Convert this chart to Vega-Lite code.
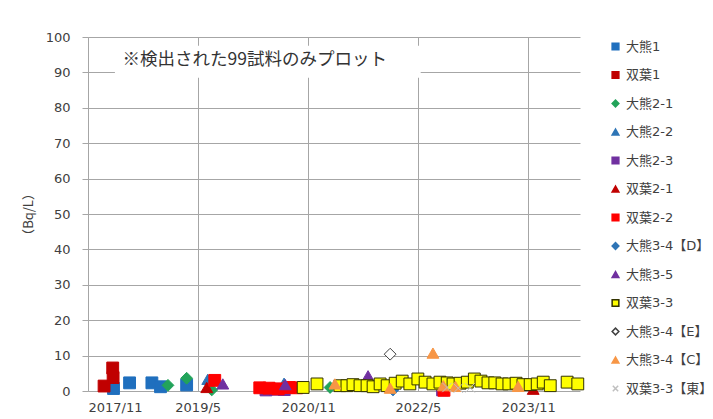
{
  "$schema": "https://vega.github.io/schema/vega-lite/v6.json",
  "width": 492,
  "height": 354,
  "autosize": {"type": "none"},
  "padding": {"left": 88, "top": 37, "right": 133, "bottom": 28},
  "background": "white",
  "config": {
    "view": {"stroke": null},
    "font": "DejaVu Sans",
    "axis": {"grid": true, "gridColor": "#A6A6A6", "domainColor": "#A6A6A6", "tickColor": "#A6A6A6", "labelColor": "#404040", "labelFont": "DejaVu Sans", "labelFontSize": 13, "titleColor": "#404040"},
    "axisY": {"titleFont": "Noto Sans CJK JP", "titleFontSize": 13, "titleFontWeight": "normal", "titlePadding": 10, "titleColor": "#404040"},
    "legend": {"labelFont": "DejaVu Sans, Noto Sans CJK JP", "labelFontSize": 13, "labelColor": "#404040", "symbolSize": 45, "rowPadding": 14.5, "padding": 3, "offset": 26}
  },
  "layer": [
    {
      "data": {"values": [
        {"series": "大熊1", "date": "2018-03-08", "value": 0.7},
        {"series": "大熊1", "date": "2018-05-27", "value": 2.3},
        {"series": "大熊1", "date": "2018-09-15", "value": 2.3},
        {"series": "大熊1", "date": "2018-10-28", "value": 1.2},
        {"series": "大熊1", "date": "2019-03-07", "value": 1.7},
        {"series": "双葉1", "date": "2018-01-20", "value": 1.4},
        {"series": "双葉1", "date": "2018-03-04", "value": 6.5},
        {"series": "双葉1", "date": "2018-03-06", "value": 3.8},
        {"series": "大熊2-1", "date": "2018-12-04", "value": 1.6},
        {"series": "大熊2-1", "date": "2019-03-07", "value": 3.6},
        {"series": "大熊2-1", "date": "2019-07-10", "value": 0.3},
        {"series": "大熊2-1", "date": "2021-02-18", "value": 1.0},
        {"series": "大熊2-2", "date": "2019-06-20", "value": 3.3},
        {"series": "大熊2-2", "date": "2020-07-04", "value": 2.2},
        {"series": "大熊2-3", "date": "2020-04-05", "value": 0.3},
        {"series": "大熊2-3", "date": "2020-05-20", "value": 0.5},
        {"series": "大熊2-3", "date": "2020-07-05", "value": 0.4},
        {"series": "大熊2-3", "date": "2022-09-01", "value": 0.3},
        {"series": "双葉2-1", "date": "2019-06-15", "value": 1.0},
        {"series": "双葉2-1", "date": "2023-11-26", "value": 0.5},
        {"series": "双葉2-2", "date": "2019-07-25", "value": 3.0},
        {"series": "双葉2-2", "date": "2020-03-05", "value": 0.9},
        {"series": "双葉2-2", "date": "2020-04-20", "value": 0.8},
        {"series": "双葉2-2", "date": "2020-06-05", "value": 0.6},
        {"series": "双葉2-2", "date": "2020-07-30", "value": 1.0},
        {"series": "双葉2-2", "date": "2020-09-05", "value": 0.9},
        {"series": "双葉2-2", "date": "2022-09-08", "value": 0.2},
        {"series": "大熊3-4【D】", "date": "2021-12-28", "value": 0.3},
        {"series": "大熊3-5", "date": "2019-09-03", "value": 2.0},
        {"series": "大熊3-5", "date": "2020-07-10", "value": 1.8},
        {"series": "大熊3-5", "date": "2021-08-26", "value": 4.3},
        {"series": "双葉3-3", "date": "2020-10-07", "value": 1.0},
        {"series": "双葉3-3", "date": "2020-12-15", "value": 2.0},
        {"series": "双葉3-3", "date": "2021-04-08", "value": 1.5},
        {"series": "双葉3-3", "date": "2021-05-13", "value": 1.5},
        {"series": "双葉3-3", "date": "2021-06-12", "value": 1.8},
        {"series": "双葉3-3", "date": "2021-07-17", "value": 1.5},
        {"series": "双葉3-3", "date": "2021-08-21", "value": 1.5},
        {"series": "双葉3-3", "date": "2021-09-20", "value": 1.2},
        {"series": "双葉3-3", "date": "2021-10-25", "value": 2.0},
        {"series": "双葉3-3", "date": "2021-11-29", "value": 1.5},
        {"series": "双葉3-3", "date": "2022-01-08", "value": 2.2},
        {"series": "双葉3-3", "date": "2022-02-12", "value": 2.8},
        {"series": "双葉3-3", "date": "2022-03-22", "value": 2.0},
        {"series": "双葉3-3", "date": "2022-05-01", "value": 3.4},
        {"series": "双葉3-3", "date": "2022-06-06", "value": 2.5},
        {"series": "双葉3-3", "date": "2022-07-15", "value": 2.0},
        {"series": "双葉3-3", "date": "2022-08-19", "value": 2.5},
        {"series": "双葉3-3", "date": "2022-09-24", "value": 2.3},
        {"series": "双葉3-3", "date": "2022-10-23", "value": 2.0},
        {"series": "双葉3-3", "date": "2022-11-27", "value": 2.2},
        {"series": "双葉3-3", "date": "2023-01-02", "value": 2.5},
        {"series": "双葉3-3", "date": "2023-02-06", "value": 3.4},
        {"series": "双葉3-3", "date": "2023-03-11", "value": 2.8},
        {"series": "双葉3-3", "date": "2023-04-15", "value": 2.3},
        {"series": "双葉3-3", "date": "2023-05-19", "value": 2.3},
        {"series": "双葉3-3", "date": "2023-06-24", "value": 2.0},
        {"series": "双葉3-3", "date": "2023-07-28", "value": 2.0},
        {"series": "双葉3-3", "date": "2023-09-02", "value": 2.2},
        {"series": "双葉3-3", "date": "2023-10-06", "value": 1.8},
        {"series": "双葉3-3", "date": "2023-11-11", "value": 1.8},
        {"series": "双葉3-3", "date": "2023-12-16", "value": 2.0},
        {"series": "双葉3-3", "date": "2024-01-15", "value": 2.5},
        {"series": "双葉3-3", "date": "2024-02-19", "value": 1.5},
        {"series": "双葉3-3", "date": "2024-05-13", "value": 2.5},
        {"series": "双葉3-3", "date": "2024-07-05", "value": 2.0},
        {"series": "大熊3-4【E】", "date": "2021-12-14", "value": 10.4},
        {"series": "大熊3-4【C】", "date": "2021-03-14", "value": 2.0},
        {"series": "大熊3-4【C】", "date": "2021-12-14", "value": 0.8},
        {"series": "大熊3-4【C】", "date": "2022-07-15", "value": 10.7},
        {"series": "大熊3-4【C】", "date": "2022-09-05", "value": 1.5},
        {"series": "大熊3-4【C】", "date": "2022-11-04", "value": 1.3},
        {"series": "大熊3-4【C】", "date": "2023-09-12", "value": 1.3},
        {"series": "双葉3-3【東】", "date": "2022-09-23", "value": 1.0},
        {"series": "双葉3-3【東】", "date": "2022-11-18", "value": 0.8},
        {"series": "双葉3-3【東】", "date": "2023-01-16", "value": 0.9}
      ]},
      "mark": {"type": "point", "filled": true, "strokeWidth": 1, "opacity": 1, "size": 140},
      "encoding": {
        "x": {
          "field": "date", "type": "temporal",
          "scale": {"type": "utc", "domain": [{"year": 2017, "month": 11, "date": 1, "utc": true}, {"year": 2024, "month": 7, "date": 16, "utc": true}]},
          "axis": {
            "title": null, "format": "%Y/%-m", "ticks": false, "labelPadding": 10, "domain": false, "grid": true,
            "labelFontSize": 13,
            "values": [
              {"year": 2017, "month": 11, "date": 1, "utc": true},
              {"year": 2019, "month": 5, "date": 1, "utc": true},
              {"year": 2020, "month": 11, "date": 1, "utc": true},
              {"year": 2022, "month": 5, "date": 1, "utc": true},
              {"year": 2023, "month": 11, "date": 1, "utc": true}
            ]
          }
        },
        "y": {
          "field": "value", "type": "quantitative",
          "scale": {"domain": [0, 100], "nice": false, "zero": true},
          "axis": {"title": "（Bq/L）", "grid": true, "labelFontSize": 13, "values": [0, 10, 20, 30, 40, 50, 60, 70, 80, 90, 100], "tickSize": 6, "labelPadding": 12}
        },
        "shape": {
          "field": "series", "type": "nominal",
          "scale": {
            "domain": ["大熊1", "双葉1", "大熊2-1", "大熊2-2", "大熊2-3", "双葉2-1", "双葉2-2", "大熊3-4【D】", "大熊3-5", "双葉3-3", "大熊3-4【E】", "大熊3-4【C】", "双葉3-3【東】"],
            "range": ["square", "square", "diamond", "triangle-up", "square", "triangle-up", "square", "diamond", "triangle-up", "square", "diamond", "triangle-up", "M-0.8,-0.8L0.8,0.8M-0.8,0.8L0.8,-0.8"]
          },
          "legend": {"title": null}
        },
        "fill": {
          "field": "series", "type": "nominal",
          "scale": {
            "domain": ["大熊1", "双葉1", "大熊2-1", "大熊2-2", "大熊2-3", "双葉2-1", "双葉2-2", "大熊3-4【D】", "大熊3-5", "双葉3-3", "大熊3-4【E】", "大熊3-4【C】", "双葉3-3【東】"],
            "range": ["#1F6FBE", "#C00000", "#22A35A", "#2E75B6", "#7030A0", "#C00000", "#FF0000", "#2E75B6", "#7030A0", "#FFFF00", "#FFFFFF", "#F79646", "transparent"]
          },
          "legend": {"title": null}
        },
        "stroke": {
          "field": "series", "type": "nominal",
          "scale": {
            "domain": ["大熊1", "双葉1", "大熊2-1", "大熊2-2", "大熊2-3", "双葉2-1", "双葉2-2", "大熊3-4【D】", "大熊3-5", "双葉3-3", "大熊3-4【E】", "大熊3-4【C】", "双葉3-3【東】"],
            "range": ["#1F6FBE", "#C00000", "#22A35A", "#2E75B6", "#7030A0", "#C00000", "#FF0000", "#2E75B6", "#7030A0", "#333300", "#404040", "#F79646", "#BFBFBF"]
          },
          "legend": {"title": null}
        }
      }
    },
    {
      "data": {"values": [{"label": "※検出された99試料のみプロット"}]},
      "mark": {"type": "rect", "fill": "white"},
      "encoding": {
        "x": {"datum": {"year": 2018, "month": 3, "date": 15, "utc": true}, "type": "temporal"},
        "x2": {"datum": {"year": 2022, "month": 5, "date": 15, "utc": true}},
        "y": {"datum": 88.5, "type": "quantitative",
          "axis": {"title": "（Bq/L）", "grid": true, "labelFontSize": 13, "values": [0, 10, 20, 30, 40, 50, 60, 70, 80, 90, 100], "tickSize": 6, "labelPadding": 12}},
        "y2": {"datum": 97.5}
      }
    },
    {
      "data": {"values": [{"label": "※検出された99試料のみプロット"}]},
      "mark": {"type": "text", "align": "left", "baseline": "middle", "font": "Noto Sans CJK JP", "fontSize": 17.5, "color": "#333333"},
      "encoding": {
        "x": {"datum": {"year": 2018, "month": 4, "date": 22, "utc": true}, "type": "temporal"},
        "y": {"datum": 93.5, "type": "quantitative",
          "axis": {"title": "（Bq/L）", "grid": true, "labelFontSize": 13, "values": [0, 10, 20, 30, 40, 50, 60, 70, 80, 90, 100], "tickSize": 6, "labelPadding": 12}},
        "text": {"field": "label"}
      }
    }
  ]
}
